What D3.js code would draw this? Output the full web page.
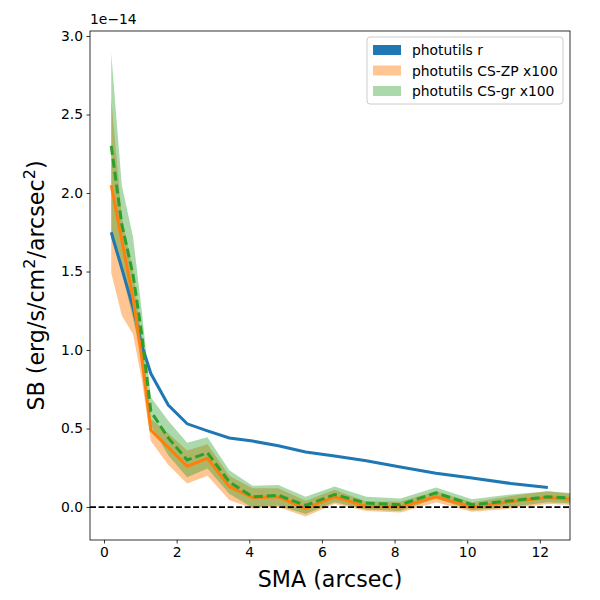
<!DOCTYPE html>
<html>
<head>
<meta charset="utf-8">
<script src="https://cdn.jsdelivr.net/npm/d3@7"></script>
<style>
  body { margin: 0; background: #fff; }
  text { font-family: "DejaVu Sans", sans-serif; }
</style>
</head>
<body>
<script>
// Surface brightness profiles, values in units of 1e-14

var sma = [0.2, 0.49, 0.8, 1.04, 1.29, 1.77, 2.29, 2.85, 3.45, 4.09,
    4.80, 5.55, 6.35, 7.22, 8.16, 9.14, 10.13, 11.2, 12.22, 13.4];

// photutils r (ends at 12.22)
var sbR = [1.75, 1.52, 1.27, 1.03, 0.85, 0.65, 0.53, 0.485, 0.44, 0.42,
    0.39, 0.35, 0.325, 0.295, 0.255, 0.215, 0.185, 0.15, 0.125];

// photutils CS-ZP x100
var sbZP   = [2.05, 1.70, 1.33, 0.95, 0.49, 0.38, 0.26, 0.31, 0.13, 0.06,
    0.065, -0.01, 0.065, 0.005, 0.0, 0.065, 0.0, 0.035, 0.06, 0.04];
var sbZPlo = [1.49, 1.22, 1.10, 0.81, 0.42, 0.27, 0.15, 0.20, 0.045, -0.01,
    0.0, -0.06, 0.02, -0.025, -0.035, 0.03, -0.03, -0.01, 0.02, 0.01];
var sbZPhi = [2.60, 1.85, 1.50, 1.08, 0.56, 0.47, 0.36, 0.40, 0.20, 0.12,
    0.12, 0.04, 0.11, 0.035, 0.035, 0.10, 0.03, 0.07, 0.10, 0.07];

// photutils CS-gr x100
var sbGR   = [2.30, 1.80, 1.48, 1.10, 0.61, 0.44, 0.30, 0.345, 0.16, 0.065,
    0.075, 0.01, 0.08, 0.025, 0.015, 0.09, 0.015, 0.04, 0.065, 0.05];
var sbGRlo = [1.71, 1.50, 1.20, 0.95, 0.52, 0.33, 0.19, 0.245, 0.085, -0.005,
    0.01, -0.045, 0.03, -0.015, -0.025, 0.055, -0.02, 0.0, 0.03, 0.02];
var sbGRhi = [2.89, 2.05, 1.72, 1.25, 0.70, 0.55, 0.41, 0.445, 0.235, 0.135,
    0.14, 0.065, 0.13, 0.065, 0.055, 0.125, 0.05, 0.08, 0.10, 0.08];

var xTicks = [0, 2, 4, 6, 8, 10, 12];
var yTicks = [0, 0.5, 1.0, 1.5, 2.0, 2.5, 3.0];

var legendLabels = ["photutils r", "photutils CS-ZP x100", "photutils CS-gr x100"];

////////////////
// Make display!
////////////////

var W = 600, H = 600;
var margin = {top: 31, right: 30, bottom: 60, left: 90};
var w = W - margin.left - margin.right,
    h = H - margin.top - margin.bottom;

var blue = "#1f77b4", orange = "#ff7f0e", green = "#2ca02c";

var svg = d3.select("body").append("svg")
    .attr("width", W)
    .attr("height", H);

var g = svg.append("g")
    .attr("transform", "translate(" + margin.left + "," + margin.top + ")");

var x = d3.scaleLinear().domain([-0.385, 12.83]).range([0, w]);
var y = d3.scaleLinear().domain([-0.21, 3.032]).range([h, 0]);

g.append("clipPath").attr("id", "clip")
  .append("rect").attr("width", w).attr("height", h);

var plot = g.append("g").attr("clip-path", "url(#clip)");

function band(lo, hi) {
    return d3.area()
        .x(function(d, i) { return x(sma[i]); })
        .y0(function(d, i) { return y(lo[i]); })
        .y1(function(d, i) { return y(hi[i]); })(lo);
}
function line(vals) {
    return d3.line()
        .x(function(d, i) { return x(sma[i]); })
        .y(function(d) { return y(d); })(vals);
}

plot.append("path").attr("d", band(sbZPlo, sbZPhi))
    .attr("fill", orange).attr("fill-opacity", 0.45);
plot.append("path").attr("d", band(sbGRlo, sbGRhi))
    .attr("fill", green).attr("fill-opacity", 0.4);

plot.append("path").attr("d", line(sbR))
    .attr("fill", "none").attr("stroke", blue).attr("stroke-width", 3);
plot.append("path").attr("d", line(sbZP))
    .attr("fill", "none").attr("stroke", orange).attr("stroke-width", 3);
plot.append("path").attr("d", line(sbGR))
    .attr("fill", "none").attr("stroke", green).attr("stroke-width", 3)
    .attr("stroke-dasharray", "9,4");

// zero line
plot.append("line")
    .attr("x1", 0).attr("x2", w)
    .attr("y1", y(0)).attr("y2", y(0))
    .attr("stroke", "#000").attr("stroke-width", 1.7)
    .attr("stroke-dasharray", "6,2.6");

// axes
var xAxis = g.append("g")
    .attr("transform", "translate(0," + h + ")")
    .call(d3.axisBottom(x).tickValues(xTicks).tickFormat(d3.format("d"))
        .tickSizeInner(3.5).tickSizeOuter(0).tickPadding(3.5));
var yAxis = g.append("g")
    .call(d3.axisLeft(y).tickValues(yTicks).tickFormat(d3.format(".1f"))
        .tickSizeInner(3.5).tickSizeOuter(0).tickPadding(3.5));

[xAxis, yAxis].forEach(function(a) {
    a.select(".domain").remove();
    a.selectAll("line").attr("stroke", "#000").attr("stroke-width", 0.8);
    a.selectAll("text").attr("font-size", 13.9).attr("fill", "#000")
        .attr("font-family", "DejaVu Sans");
});

// frame
g.append("rect")
    .attr("width", w).attr("height", h)
    .attr("fill", "none").attr("stroke", "#000").attr("stroke-width", 0.8);

// offset text
g.append("text")
    .attr("x", 0).attr("y", -7)
    .attr("font-size", 13.9)
    .text("1e\u221214");

// axis labels
svg.append("text")
    .attr("x", margin.left + w / 2).attr("y", 587)
    .attr("text-anchor", "middle")
    .attr("font-size", 22.2)
    .text("SMA (arcsec)");

var yl = svg.append("text")
    .attr("transform", "translate(44," + (margin.top + h / 2) + ") rotate(-90)")
    .attr("text-anchor", "middle")
    .attr("font-size", 22.2);
yl.append("tspan").text("SB (erg/s/cm");
yl.append("tspan").attr("dy", -9).attr("font-size", 16).text("2");
yl.append("tspan").attr("dy", 9).text("/arcsec");
yl.append("tspan").attr("dy", -9).attr("font-size", 16).text("2");
yl.append("tspan").attr("dy", 9).text(")");

// legend
var leg = svg.append("g").attr("transform", "translate(367,37)");
leg.append("rect")
    .attr("width", 196).attr("height", 67).attr("rx", 3)
    .attr("fill", "#fff").attr("fill-opacity", 0.8)
    .attr("stroke", "#cccccc").attr("stroke-width", 1);

var legColors = [blue, orange, green];
var legAlpha = [1, 0.45, 0.4];

leg.selectAll("g.item")
    .data(legendLabels)
  .enter().append("g")
    .attr("class", "item")
    .attr("transform", function(d, i) { return "translate(0," + (13 + i * 20.5) + ")"; })
    .each(function(d, i) {
        var it = d3.select(this);
        it.append("rect")
            .attr("x", 6).attr("y", -5).attr("width", 28).attr("height", 10)
            .attr("fill", legColors[i]).attr("fill-opacity", legAlpha[i]);
        it.append("text")
            .attr("x", 45).attr("y", 5)
            .attr("font-size", 13.9)
            .text(d);
    });
</script>
</body>
</html>
